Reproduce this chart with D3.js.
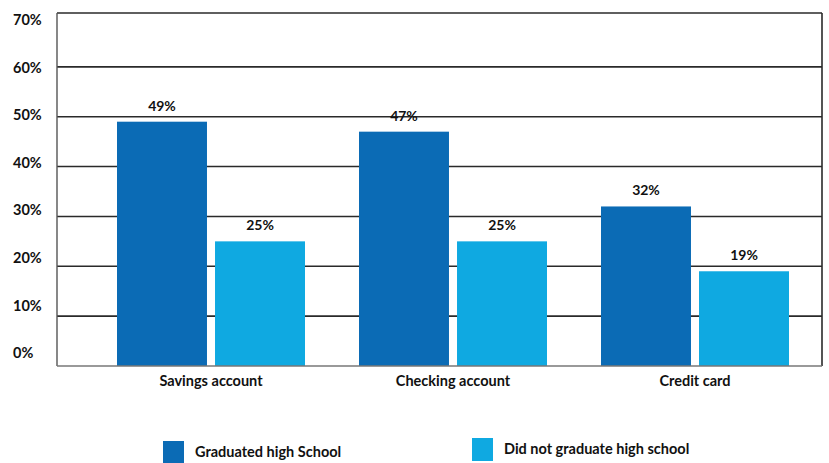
<!DOCTYPE html>
<html>
<head>
<meta charset="utf-8">
<script src="https://cdn.jsdelivr.net/npm/d3@7"></script>
<style>
  html, body { margin: 0; padding: 0; background: #fff; }
  svg { display: block; font-family: Lato, "Open Sans", sans-serif; font-weight: bold; }
</style>
</head>
<body>
<svg id="chart" width="829" height="463"></svg>
<script>
const categories = ["Savings account", "Checking account", "Credit card"];
const seriesNames = ["Graduated high School", "Did not graduate high school"];
const graduated = [49, 47, 32];
const notGraduated = [25, 25, 19];
const yTicks = [0, 10, 20, 30, 40, 50, 60, 70];
const colors = ["#0b6bb5", "#0fa9e1"];

(function () {
const svg = d3.select("#chart");
const pLeft = 57, pRight = 822, pTop = 13, pBottom = 366;

const y = d3.scaleLinear().domain([0, 70]).range([pBottom, 17]);
const yLabel = d3.scaleLinear().domain([0, 70]).range([353, 20]);
const x0 = d3.scaleBand().domain(categories).range([90, 816]).padding(0);
const x1 = d3.scaleBand().domain(seriesNames)
  .range([x0.bandwidth() / 2 - 94, x0.bandwidth() / 2 + 94]).paddingInner(0.082);

// gridlines
svg.append("g").selectAll("line").data(yTicks.filter(d => d > 0 && d < 70)).join("line")
  .attr("x1", pLeft).attr("x2", pRight)
  .attr("y1", d => y(d)).attr("y2", d => y(d))
  .attr("stroke", "#2a2a2a").attr("stroke-width", 1.6);

// frame
svg.append("line").attr("x1", pLeft).attr("x2", pRight).attr("y1", pTop).attr("y2", pTop)
  .attr("stroke", "#2a2a2a").attr("stroke-width", 1.6);
svg.append("line").attr("x1", pRight).attr("x2", pRight).attr("y1", pTop).attr("y2", pBottom)
  .attr("stroke", "#2a2a2a").attr("stroke-width", 1.6);
svg.append("line").attr("x1", pLeft).attr("x2", pLeft).attr("y1", pTop).attr("y2", pBottom)
  .attr("stroke", "#555").attr("stroke-width", 1.4);

// bars
const rows = categories.map((c, i) => ({ cat: c, vals: [graduated[i], notGraduated[i]] }));
const groups = svg.append("g").selectAll("g").data(rows).join("g")
  .attr("transform", d => `translate(${x0(d.cat)},0)`);
groups.selectAll("rect").data(d => d.vals.map((v, j) => ({ s: seriesNames[j], v, j }))).join("rect")
  .attr("x", d => x1(d.s)).attr("width", x1.bandwidth())
  .attr("y", d => y(d.v)).attr("height", d => pBottom - y(d.v))
  .attr("fill", d => colors[d.j]);
groups.selectAll("text").data(d => d.vals.map((v, j) => ({ s: seriesNames[j], v, j }))).join("text")
  .attr("x", d => x1(d.s) + x1.bandwidth() / 2)
  .attr("y", d => y(d.v) - 11)
  .attr("text-anchor", "middle").attr("font-size", 14).attr("fill", "#111")
  .text(d => d.v + "%");

// bottom axis line
svg.append("line").attr("x1", pLeft).attr("x2", pRight).attr("y1", pBottom).attr("y2", pBottom)
  .attr("stroke", "#777").attr("stroke-width", 1.4);

// y labels
svg.append("g").selectAll("text").data(yTicks).join("text")
  .attr("x", 13).attr("y", d => yLabel(d)).attr("dy", "0.35em")
  .attr("font-size", 14.5).attr("fill", "#111")
  .text(d => d + "%");

// category labels
svg.append("g").selectAll("text").data(categories).join("text")
  .attr("x", d => x0(d) + x0.bandwidth() / 2).attr("y", 381).attr("dy", "0.35em")
  .attr("text-anchor", "middle").attr("font-size", 14.5).attr("fill", "#111")
  .text(d => d);

// legend
const legendX = [163, 472];
const legendY = [452, 449];
const lg = svg.append("g").selectAll("g").data(seriesNames).join("g");
lg.append("rect").attr("x", (d, i) => legendX[i]).attr("y", (d, i) => legendY[i] - 11)
  .attr("width", 21).attr("height", 23).attr("fill", (d, i) => colors[i]);
lg.append("text").attr("x", (d, i) => legendX[i] + 32).attr("y", (d, i) => legendY[i]).attr("dy", "0.35em")
  .attr("font-size", 14.5).attr("fill", "#111").text(d => d);
})();
</script>
</body>
</html>
